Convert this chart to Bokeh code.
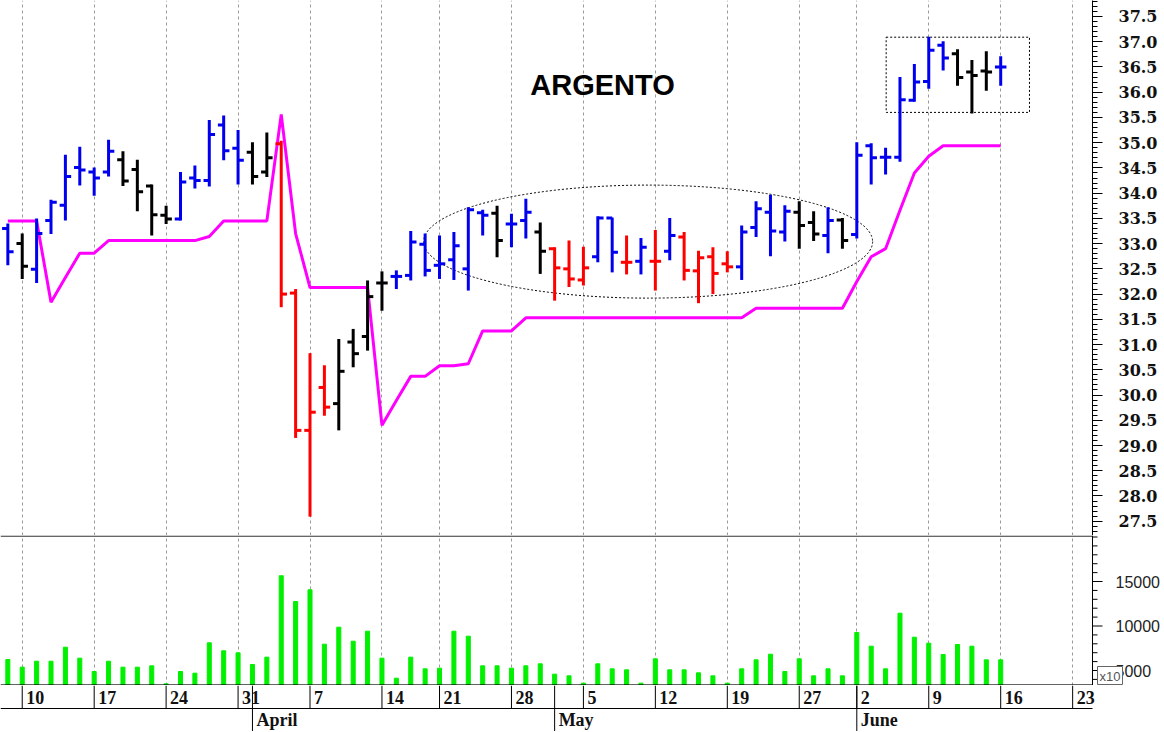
import numpy as np
import pandas as pd
from bokeh.plotting import figure
from bokeh.layouts import column
from bokeh.models import ColumnDataSource, FixedTicker, PrintfTickFormatter, Label, Range1d
from bokeh.core.properties import value
from bokeh.embed import file_html
from bokeh.resources import INLINE

# ---------------- data ----------------
trade_dates = [
    "2025-03-07", "2025-03-10", "2025-03-11", "2025-03-12", "2025-03-13", "2025-03-14",
    "2025-03-17", "2025-03-18", "2025-03-19", "2025-03-20", "2025-03-21",
    "2025-03-24", "2025-03-25", "2025-03-26", "2025-03-27", "2025-03-28",
    "2025-03-31", "2025-04-01", "2025-04-02", "2025-04-03", "2025-04-04",
    "2025-04-07", "2025-04-08", "2025-04-09", "2025-04-10", "2025-04-11",
    "2025-04-14", "2025-04-15", "2025-04-16", "2025-04-17",
    "2025-04-21", "2025-04-22", "2025-04-23", "2025-04-24", "2025-04-25",
    "2025-04-28", "2025-04-29", "2025-04-30", "2025-05-01", "2025-05-02",
    "2025-05-05", "2025-05-06", "2025-05-07", "2025-05-08", "2025-05-09",
    "2025-05-12", "2025-05-13", "2025-05-14", "2025-05-15", "2025-05-16",
    "2025-05-19", "2025-05-20", "2025-05-21", "2025-05-22", "2025-05-23",
    "2025-05-27", "2025-05-28", "2025-05-29", "2025-05-30",
    "2025-06-02", "2025-06-03", "2025-06-04", "2025-06-05", "2025-06-06",
    "2025-06-09", "2025-06-10", "2025-06-11", "2025-06-12", "2025-06-13",
    "2025-06-16",
]
# empty calendar slots drawn on the date axis after the last bar
axis_future_dates = ["2025-06-17", "2025-06-18", "2025-06-19", "2025-06-20", "2025-06-23", "2025-06-24"]

opens = [33.30, 33.00, 32.49, 33.46, 33.76, 34.51, 34.42, 34.42, 34.66, 34.47,
         34.14, 33.56, 33.49, 34.30, 34.25, 35.35, 34.89, 34.81, 34.42, 34.98,
         32.02, 29.30, 30.15, 29.83, 31.05, 31.16, 32.22, 32.35, 32.37, 32.99,
         32.57, 32.68, 32.50, 33.61, 33.60, 33.39, 33.46, 33.23, 32.90, 32.50,
         32.28, 32.74, 33.51, 32.63, 32.65, 32.65, 32.85, 33.13, 32.46, 32.74,
         32.60, 32.54, 33.32, 33.62, 33.23, 33.62, 33.42, 33.16, 33.47, 33.18,
         34.94, 34.71, 34.71, 35.84, 36.21, 36.93, 36.76, 36.40, 36.42, 36.50]
highs = [33.40, 33.20, 33.50, 33.87, 34.76, 34.92, 34.51, 35.06, 34.83, 34.66,
         34.17, 33.75, 34.42, 34.55, 35.45, 35.54, 35.25, 35.01, 35.20, 35.04,
         32.10, 30.83, 30.59, 31.11, 31.31, 32.27, 32.45, 32.47, 33.25, 33.20,
         33.16, 33.23, 33.72, 33.67, 33.75, 33.59, 33.89, 33.42, 32.93, 33.06,
         32.94, 33.54, 33.52, 33.16, 33.11, 33.27, 33.51, 33.23, 32.86, 32.93,
         32.85, 33.36, 33.84, 33.97, 33.76, 33.84, 33.64, 33.72, 33.51, 35.01,
         34.99, 34.90, 36.30, 36.56, 37.10, 37.01, 36.85, 36.64, 36.81, 36.71]
lows = [32.57, 32.30, 32.22, 33.19, 33.46, 34.15, 33.95, 34.33, 34.14, 33.64,
        33.16, 33.39, 33.46, 34.09, 34.13, 34.65, 34.17, 34.17, 34.32, 31.74,
        29.15, 27.59, 29.59, 29.30, 30.55, 30.88, 31.67, 32.10, 32.27, 32.35,
        32.30, 32.28, 32.07, 33.16, 32.73, 32.93, 33.10, 32.40, 31.87, 32.14,
        32.17, 32.63, 32.43, 32.39, 32.39, 32.07, 32.67, 32.27, 31.82, 32.00,
        32.43, 32.28, 33.13, 32.75, 33.04, 32.90, 33.05, 32.81, 32.90, 33.10,
        34.17, 34.37, 34.62, 35.81, 36.07, 36.43, 36.13, 35.58, 36.03, 36.13]
closes = [32.84, 32.55, 33.20, 33.82, 34.33, 34.46, 34.30, 34.83, 34.24, 34.03,
          33.57, 33.49, 34.22, 34.25, 35.16, 34.84, 34.65, 34.33, 34.70, 32.00,
          29.30, 29.66, 29.76, 30.47, 30.82, 31.95, 32.22, 32.35, 33.03, 32.47,
          32.60, 32.96, 33.67, 33.56, 33.06, 33.39, 33.62, 32.85, 32.52, 32.30,
          32.52, 33.51, 32.83, 32.63, 32.93, 32.65, 33.16, 32.47, 32.72, 32.41,
          32.54, 33.23, 33.69, 33.25, 33.64, 33.36, 33.19, 33.46, 33.06, 34.75,
          34.70, 34.71, 35.85, 36.20, 36.83, 36.68, 36.29, 36.33, 36.40, 36.50]
# bar colour code per day: B = blue, K = black, R = red
bar_codes = ("BKBBBBBBKK" "KKBBBBBKKR" "RRRKKKKBBB" "BBBBKBBKRR"
             "RBBRBRBRRR" "RBBBBKKBKB" "BBBBBBKKKB")
trailing_stop = [33.45, 33.45, 33.45, 31.84, 32.33, 32.81, 32.81, 33.06, 33.06, 33.06,
                 33.06, 33.06, 33.06, 33.06, 33.14, 33.45, 33.45, 33.45, 33.45, 35.56,
                 33.20, 32.13, 32.13, 32.13, 32.13, 32.13, 29.40, 29.89, 30.37, 30.37,
                 30.58, 30.58, 30.62, 31.27, 31.27, 31.27, 31.53, 31.53, 31.53, 31.53,
                 31.53, 31.53, 31.53, 31.53, 31.53, 31.53, 31.53, 31.53, 31.53, 31.53,
                 31.53, 31.53, 31.72, 31.72, 31.72, 31.72, 31.72, 31.72, 31.72, 32.25,
                 32.74, 32.90, 33.66, 34.40, 34.73, 34.94, 34.94, 34.94, 34.94, 34.94]
volumes = [6236, 5375, 6045, 6045, 7620, 6385, 4888, 6045, 5375, 5375,
           5525, 3505, 4888, 4700, 8113, 7213, 6989, 5674, 6500, 15644,
           12756, 14068, 7956, 9867, 8293, 9417, 6385, 4135, 6500, 5187,
           5262, 9417, 8855, 5525, 5525, 5262, 5525, 5750, 4588, 4400,
           3577, 5750, 5187, 5075, 3577, 6311, 5075, 5075, 4738, 4400,
           3577, 5187, 6198, 6832, 4888, 6311, 4400, 5187, 4400, 9271,
           7731, 5187, 11441, 8743, 8068, 6798, 7922, 7731, 6198, 6198]

price_ticks = [27.5, 28.0, 28.5, 29.0, 29.5, 30.0, 30.5, 31.0, 31.5, 32.0, 32.5,
               33.0, 33.5, 34.0, 34.5, 35.0, 35.5, 36.0, 36.5, 37.0, 37.5]
volume_ticks = [5000, 10000, 15000]
volume_unit_note = "x10"

# highlighted zones (consolidation ellipse, breakout box) in index / price units
ellipse_zone = dict(x=44.5, y=33.04, w=31.2, h=2.24)
box_zone = dict(left=61.04, right=71.0, bottom=35.6, top=37.09)
title_pos = dict(x=41.33, y=36.15)

# ---------------- derived ----------------
n = len(trade_dates)
assert all(len(a) == n for a in (opens, highs, lows, closes, trailing_stop, volumes, bar_codes))
idx = np.arange(n)
colour_map = {"B": "#0000EE", "K": "#000000", "R": "#FF0000"}
colors = [colour_map[c] for c in bar_codes]

slots = pd.to_datetime(trade_dates + axis_future_dates)
iso = slots.isocalendar()
week_key = (iso.year.astype(int) * 100 + iso.week.astype(int)).to_numpy()
week_ticks = [i for i in range(1, len(slots)) if week_key[i] != week_key[i - 1]]
week_labels = [str(slots[i].day) for i in week_ticks]
month_ticks = [i for i in range(1, len(slots)) if slots[i].month != slots[i - 1].month]
month_labels = [slots[i].month_name() for i in month_ticks]

src = ColumnDataSource(dict(x=idx, xl=idx - 0.4, xr=idx + 0.4, o=opens, h=highs, l=lows,
                            c=closes, color=colors, stop=trailing_stop, vol=volumes))

# ---------------- geometry ----------------
FRAME_W = 1092          # price frame width (px)
WIDE_W = 1162           # volume / date frames run under the price axis
X_START, X_END = -0.51, 75.38
X_PX = (X_END - X_START) / FRAME_W
X_WIDE_END = X_START + WIDE_W * X_PX
PRICE_LO, PRICE_HI = 27.217, 37.817
VOL_LO, VOL_HI = 3315, 20170
VOL_H = 150
VOL_PX = (VOL_HI - VOL_LO) / VOL_H
GRID_COLOR = "#9a9a9a"

# ---------------- price panel ----------------
p = figure(frame_width=FRAME_W, frame_height=535, x_range=Range1d(X_START, X_END),
           y_range=Range1d(PRICE_LO, PRICE_HI), output_backend="svg", toolbar_location=None,
           y_axis_location="right", x_axis_location=None, min_border=0)
p.outline_line_color = None
p.ygrid.visible = False
p.xgrid.ticker = FixedTicker(ticks=week_ticks)
p.xgrid.grid_line_color = GRID_COLOR
p.xgrid.grid_line_dash = "3 3"

ya = p.yaxis[0]
ya.ticker = FixedTicker(ticks=price_ticks, minor_ticks=list(np.round(np.arange(27.3, 37.85, 0.1), 2)))
ya.formatter = PrintfTickFormatter(format="%.1f")
ya.major_label_text_font = "DejaVu Serif"
ya.major_label_text_font_style = "bold"
ya.major_label_text_font_size = "16px"
ya.major_label_text_color = "#111111"
ya.major_tick_in = 0
ya.major_tick_out = 10
ya.minor_tick_in = 0
ya.minor_tick_out = 5
ya.major_label_standoff = 16
ya.axis_line_color = "black"

p.ellipse(x=ellipse_zone["x"], y=ellipse_zone["y"], width=ellipse_zone["w"], height=ellipse_zone["h"],
          fill_color=None, line_color="black", line_dash="2 2", line_width=1)
p.quad(left=box_zone["left"], right=box_zone["right"], bottom=box_zone["bottom"], top=box_zone["top"],
       fill_color=None, line_color="black", line_dash="2 2", line_width=1)

p.line("x", "stop", source=src, line_color="#FF00FF", line_width=3)
p.segment(x0="x", y0="l", x1="x", y1="h", source=src, line_color="color", line_width=3)
p.segment(x0="xl", y0="o", x1="x", y1="o", source=src, line_color="color", line_width=3)
p.segment(x0="x", y0="c", x1="xr", y1="c", source=src, line_color="color", line_width=3)

p.add_layout(Label(x=title_pos["x"], y=title_pos["y"], text="ARGENTO", text_font="Liberation Sans",
                   text_font_style="bold", text_font_size="29px", text_align="center",
                   text_baseline="middle", text_color="black"))

# ---------------- volume panel (axis drawn by hand so the x10 note can sit beside it) ----------------
v = figure(frame_width=WIDE_W, frame_height=VOL_H, x_range=Range1d(X_START, X_WIDE_END),
           y_range=Range1d(VOL_LO, VOL_HI), output_backend="svg", toolbar_location=None,
           x_axis_location=None, y_axis_location=None, min_border=0)
v.outline_line_color = None
v.ygrid.visible = False
v.xgrid.ticker = FixedTicker(ticks=week_ticks)
v.xgrid.grid_line_color = GRID_COLOR
v.xgrid.grid_line_dash = "3 3"

v.vbar(x="x", top="vol", bottom=0, width=0.28, source=src, fill_color="#00F000", line_color="#00F000")

# panel frame lines (top separator, bottom separator, right axis line)
y_top_line = VOL_HI - 0.6 * VOL_PX
y_bot_line = VOL_LO + 0.6 * VOL_PX
v.segment(x0=[X_START, X_START], y0=[y_top_line, y_bot_line], x1=[X_END, X_END],
          y1=[y_top_line, y_bot_line], line_color="black", line_width=1)
v.segment(x0=[X_END], y0=[VOL_LO], x1=[X_END], y1=[VOL_HI], line_color="black", line_width=1)
minor_v = [m for m in range(4000, 20001, 1000) if m not in volume_ticks]
v.segment(x0=[X_END] * len(minor_v), y0=minor_v, x1=[X_END + 5 * X_PX] * len(minor_v), y1=minor_v,
          line_color="black", line_width=1)
v.segment(x0=[X_END] * len(volume_ticks), y0=volume_ticks, x1=[X_END + 10 * X_PX] * len(volume_ticks),
          y1=volume_ticks, line_color="black", line_width=1)
v.text(x=[X_END + 23 * X_PX] * len(volume_ticks), y=volume_ticks, text=[str(t) for t in volume_ticks],
       text_baseline="middle", text_align="left", text_font=value("Liberation Sans"),
       text_font_size=value("16px"), text_color="#222222")
v.quad(left=X_END + 5 * X_PX, right=X_END + 30 * X_PX, bottom=VOL_LO + 1 * VOL_PX, top=VOL_LO + 19 * VOL_PX,
       fill_color="white", line_color="#666666", line_width=1)
v.text(x=[X_END + 17.5 * X_PX], y=[VOL_LO + 9.5 * VOL_PX], text=[volume_unit_note], text_baseline="middle",
       text_align="center", text_font=value("Liberation Sans"), text_font_size=value("13px"),
       text_color="#555555")

# ---------------- date axis ----------------
d = figure(frame_width=WIDE_W, frame_height=46, x_range=Range1d(X_START, X_WIDE_END), y_range=Range1d(0, 2),
           output_backend="svg", toolbar_location=None, x_axis_location=None,
           y_axis_location=None, min_border=0)
d.outline_line_color = None
d.xgrid.visible = False
d.ygrid.visible = False
d.segment(x0=[X_START], y0=[1], x1=[X_END], y1=[1], line_color="black", line_width=1)
d.segment(x0=week_ticks, y0=1, x1=week_ticks, y1=2, line_color="black", line_width=1)
d.segment(x0=month_ticks, y0=0, x1=month_ticks, y1=2, line_color="black", line_width=1)
d.text(x=week_ticks, y=1.5, text=week_labels, x_offset=4, text_baseline="middle", text_align="left",
       text_font=value("Liberation Serif"), text_font_style="bold", text_font_size=value("18px"),
       text_color="#111111")
d.text(x=month_ticks, y=0.48, text=month_labels, x_offset=4, text_baseline="middle", text_align="left",
       text_font=value("Liberation Serif"), text_font_style="bold", text_font_size=value("18px"),
       text_color="#111111")

layout = column(p, v, d, spacing=0)
open("out.html", "w").write(file_html(layout, INLINE))
